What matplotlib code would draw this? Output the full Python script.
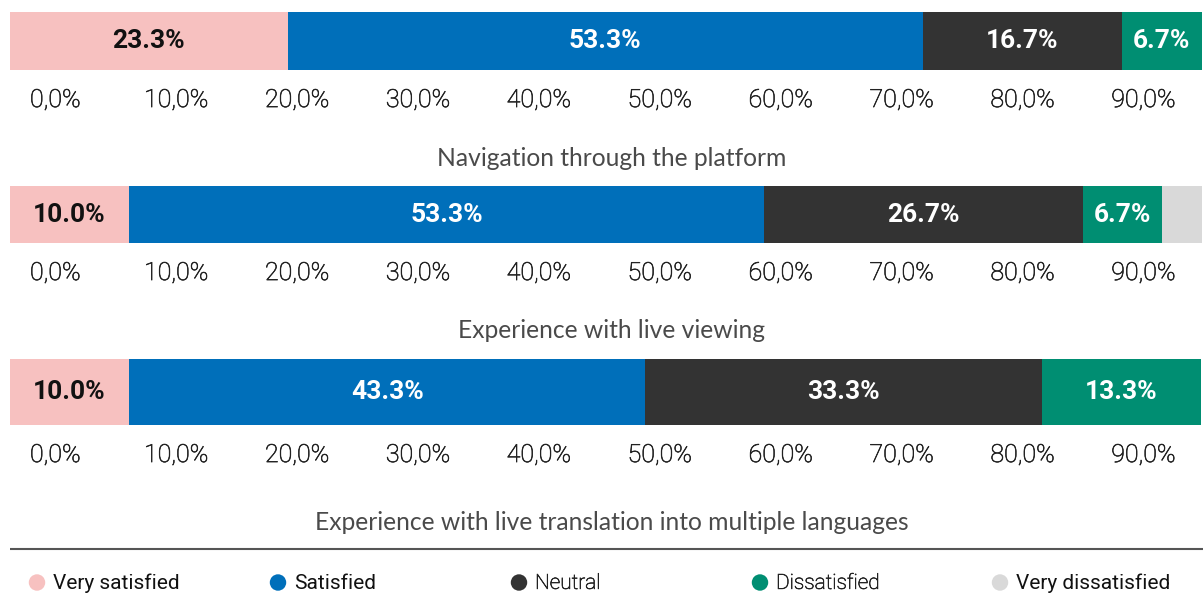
import numpy as np
import matplotlib
matplotlib.use("Agg")
import matplotlib.pyplot as plt
import matplotlib.patheffects as pe

# ---- data ----
categories = ["Very satisfied", "Satisfied", "Neutral", "Dissatisfied", "Very dissatisfied"]
colors = ["#F7C1C0", "#006FBA", "#333333", "#008E72", "#D9D9D9"]
label_colors = ["#111111", "white", "white", "white", "white"]

questions = [
    "Navigation through the platform",
    "Experience with live viewing",
    "Experience with live translation into multiple languages",
]
values = [
    [23.3, 53.3, 16.7, 6.7, 0.0],
    [10.0, 53.3, 26.7, 6.7, 3.3],
    [10.0, 43.3, 33.3, 13.3, 0.0],
]
tick_labels = ["0,0%", "10,0%", "20,0%", "30,0%", "40,0%",
               "50,0%", "60,0%", "70,0%", "80,0%", "90,0%"]

W, H = 1203, 604
fig = plt.figure(figsize=(W / 100, H / 100), dpi=100)

def px_box(x0, y0, x1, y1):
    # pixel box (top-left origin) -> figure fraction rect
    return [x0 / W, 1 - y1 / H, (x1 - x0) / W, (y1 - y0) / H]

# light Roboto renders a bit faint at this size, thicken it slightly
thicken = [pe.withStroke(linewidth=0.45, foreground="#222222")]

# bar rows: (top, bottom) in pixels, title centre y
bar_rows = [(12, 70), (186, 243), (359, 425)]
title_y = [158, 331, 522]

tick_pos = np.linspace(3.8, 95.1, len(tick_labels))

for row, (top, bot) in enumerate(bar_rows):
    ax = fig.add_axes(px_box(10, top, W, bot))
    left = 0.0
    for k, v in enumerate(values[row]):
        if v <= 0:
            continue
        ax.barh(0, v, left=left, height=1.0, color=colors[k], edgecolor="none")
        if v >= 5:
            ax.text(left + v / 2, 0, f"{v:.1f}%", ha="center", va="center",
                    fontsize=19, fontweight="bold", color=label_colors[k],
                    family="Roboto")
        left += v
    ax.set_xlim(0, 100.1)
    ax.set_ylim(-0.5, 0.5)
    ax.set_yticks([])
    ax.set_xticks(tick_pos)
    ax.set_xticklabels(tick_labels, fontsize=18, color="#222222",
                       family="Roboto", fontweight="light")
    for lbl in ax.get_xticklabels():
        lbl.set_path_effects(thicken)
    ax.tick_params(axis="x", length=0, pad=13)
    for s in ax.spines.values():
        s.set_visible(False)

    fig.text(612 / W, 1 - title_y[row] / H, questions[row], ha="center",
             va="center", fontsize=17.7, color="#4a4a4a", family="Lato",
             fontweight="normal")

# separator line above legend
line_ax = fig.add_axes(px_box(10, 545, W, 553))
line_ax.axhline(0, color="#555555", lw=1.5)
line_ax.set_ylim(-1, 1)
line_ax.axis("off")

# legend row
leg_ax = fig.add_axes(px_box(0, 565, W, 600))
leg_ax.set_xlim(0, W)
leg_ax.set_ylim(-1, 1)
leg_ax.axis("off")
leg_x = [37, 278, 519, 760, 1000]
leg_weight = ["normal", "normal", "light", "light", "normal"]
for k, name in enumerate(categories):
    leg_ax.scatter(leg_x[k], 0, s=140, color=colors[k], edgecolors="none",
                   clip_on=False)
    t = leg_ax.text(leg_x[k] + 16, -0.05, name, ha="left", va="center",
                    fontsize=15, family="Roboto", fontweight=leg_weight[k],
                    color="#111111", clip_on=False)
    if leg_weight[k] == "light":
        t.set_color("#222222")
        t.set_path_effects(thicken)

fig.savefig("out.png", dpi=100)
